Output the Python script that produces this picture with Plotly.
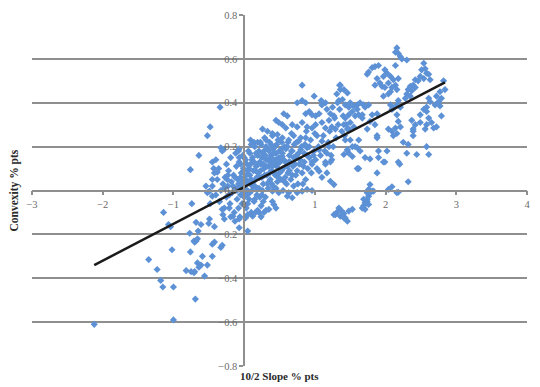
import plotly.graph_objects as go

# ---------------- data ----------------
# (10/2 slope % pts, convexity % pts) pairs, grouped by region of the cloud
left_sparse = [
    (-0.64, 0.16), (-0.76, 0.095), (-0.74, -0.06), (-1.14, -0.10), (-1.07, -0.155),
    (-1.04, -0.165), (-0.77, -0.195), (-0.70, -0.235), (-0.68, -0.23), (-1.02, -0.27),
    (-0.76, -0.28), (-1.35, -0.315), (-1.23, -0.36), (-0.82, -0.365), (-0.75, -0.37),
    (-0.70, -0.37), (-1.18, -0.41), (-1.15, -0.44), (-1.00, -0.44), (-0.69, -0.495),
    (-1.00, -0.59), (-2.12, -0.61), (-0.68, -0.145), (-0.61, -0.155), (-0.50, -0.15),
    (-0.65, -0.185), (-0.42, -0.165), (-0.71, -0.23), (-0.42, -0.235), (-0.31, -0.25),
    (-0.59, -0.30), (-0.45, -0.30), (-0.66, -0.33), (-0.61, -0.34), (-0.52, -0.34),
    (-0.64, -0.35), (-0.71, -0.375), (-0.56, -0.39), (-0.49, -0.13), (-0.28, -0.13),
    (-0.66, -0.22), (-0.45, -0.245), (-0.33, -0.26), (-0.07, -0.17), (-0.19, -0.12),
    (0.02, -0.125), (0.16, -0.10), (0.24, -0.12), (0.31, -0.09), (-0.54, 0.02),
    (-0.49, -0.003), (-0.45, 0.05), (-0.52, -0.01), (-0.45, -0.026), (-0.35, -0.05),
    (-0.31, -0.086), (-0.21, -0.08), (-0.16, -0.117), (-0.07, -0.13), (0.05, -0.11),
    (0.12, -0.117), (0.21, -0.10), (0.05, -0.185), (0.28, -0.10), (0.35, -0.086),
]
upper_left = [
    (-0.34, 0.38), (-0.48, 0.29), (-0.52, 0.25), (-0.33, 0.195), (-0.31, 0.18),
    (-0.45, 0.13), (-0.43, 0.10), (-0.38, 0.083), (-0.23, 0.07), (-0.07, 0.19),
    (0.26, 0.28), (0.09, 0.23), (0.14, 0.22), (0.19, 0.22), (0.24, 0.21),
    (0.31, 0.23), (-0.08, 0.18), (-0.07, 0.15), (-0.29, 0.186), (-0.40, 0.14),
]
core_left = [
    (-0.45, 0.02), (-0.40, -0.02), (-0.38, 0.05), (-0.35, -0.05), (-0.33, 0.00),
    (-0.30, 0.03), (-0.28, -0.08), (-0.27, 0.06), (-0.25, -0.03), (-0.23, 0.02),
    (-0.22, 0.09), (-0.20, -0.06), (-0.18, 0.04), (-0.17, -0.01), (-0.15, 0.07),
    (-0.14, -0.10), (-0.12, 0.01), (-0.11, 0.11), (-0.10, -0.04), (-0.09, 0.05),
    (-0.08, -0.08), (-0.07, 0.13), (-0.06, 0.02), (-0.05, -0.02), (-0.04, 0.08),
    (-0.03, -0.06), (-0.02, 0.04), (-0.01, 0.10), (0.00, -0.03), (0.00, 0.01),
    (-0.48, -0.06), (-0.42, 0.08), (-0.36, 0.10), (-0.30, -0.11), (-0.25, 0.12),
    (-0.19, 0.15), (-0.13, -0.14), (-0.06, -0.12), (-0.02, 0.16), (-0.12, 0.17),
]
core_mid = [
    (0.02, 0.05), (0.03, -0.08), (0.04, 0.12), (0.05, 0.00), (0.06, 0.18),
    (0.07, -0.04), (0.08, 0.07), (0.09, 0.03), (0.10, -0.10), (0.11, 0.14),
    (0.12, 0.02), (0.13, 0.09), (0.14, -0.05), (0.15, 0.20), (0.16, 0.05),
    (0.17, 0.11), (0.18, -0.02), (0.19, 0.16), (0.20, 0.08), (0.21, 0.01),
    (0.22, 0.13), (0.23, 0.22), (0.24, -0.07), (0.25, 0.06), (0.26, 0.17),
    (0.27, 0.03), (0.28, 0.10), (0.29, 0.24), (0.30, -0.03), (0.31, 0.14),
    (0.32, 0.07), (0.33, 0.19), (0.34, 0.01), (0.35, 0.11), (0.36, 0.22),
    (0.37, 0.05), (0.38, 0.16), (0.39, 0.09), (0.40, 0.26), (0.41, 0.02),
    (0.42, 0.13), (0.43, 0.20), (0.44, 0.07), (0.45, 0.17), (0.46, 0.11),
    (0.47, 0.04), (0.48, 0.23), (0.49, 0.15), (0.50, 0.08), (0.05, 0.09),
    (0.12, 0.15), (0.18, 0.06), (0.24, 0.12), (0.28, 0.18), (0.35, 0.04),
    (0.41, 0.19), (0.08, -0.01), (0.15, 0.02), (0.22, -0.03), (0.33, 0.27),
    (0.10, 0.21), (0.02, 0.14), (0.19, -0.09), (0.27, -0.05),
]
core_fill = [
    (-0.28, 0.01), (-0.24, 0.05), (-0.21, -0.02), (-0.16, 0.02), (-0.13, 0.06),
    (-0.10, 0.00), (-0.08, 0.03), (-0.05, 0.06), (-0.03, 0.01), (-0.01, -0.01),
    (0.01, 0.03), (0.03, 0.07), (0.04, -0.02), (0.06, 0.04), (0.07, 0.10),
    (0.09, 0.12), (0.10, 0.05), (0.11, 0.00), (0.13, 0.04), (0.14, 0.13),
    (0.16, 0.09), (0.17, 0.17), (0.18, 0.01), (0.20, 0.12), (0.21, 0.18),
    (0.22, 0.06), (0.23, 0.09), (0.25, 0.15), (0.26, 0.00), (0.27, 0.12),
    (0.29, 0.07), (0.30, 0.16), (0.31, 0.20), (0.32, 0.11), (0.34, 0.14),
    (0.35, 0.18), (0.36, 0.08), (0.37, 0.13), (0.38, 0.21), (0.39, 0.03),
    (0.40, 0.11), (0.42, 0.17), (0.43, 0.08), (0.44, 0.14), (0.46, 0.21),
    (0.47, 0.12), (0.48, 0.06), (0.50, 0.18), (0.51, 0.13), (0.53, 0.09),
    (0.54, 0.17), (0.56, 0.14), (0.58, 0.06), (0.59, 0.19), (0.61, 0.11),
    (0.62, 0.22), (0.64, 0.09), (0.65, 0.13), (0.67, 0.18), (0.68, 0.07),
    (0.70, 0.15), (0.72, 0.12), (0.74, 0.22), (0.75, 0.09), (0.77, 0.17),
    (0.79, 0.14), (0.81, 0.20), (0.84, 0.11), (0.86, 0.21), (0.89, 0.16),
    (0.15, -0.04), (0.05, -0.06), (0.25, -0.02), (0.33, 0.03), (0.45, 0.01),
    (0.57, 0.04), (0.70, 0.02), (-0.05, 0.12), (0.00, 0.15), (0.08, 0.17),
]
core_right = [
    (0.52, 0.05), (0.55, 0.10), (0.57, 0.20), (0.60, 0.03), (0.62, 0.08),
    (0.64, 0.16), (0.66, 0.05), (0.69, 0.11), (0.71, 0.21), (0.73, 0.07),
    (0.76, 0.03), (0.78, 0.12), (0.80, 0.24), (0.82, 0.08), (0.85, 0.17),
    (0.87, 0.05), (0.90, 0.10), (0.92, 0.20), (0.95, 0.08), (0.98, 0.16),
    (1.00, 0.26), (0.53, 0.22), (0.58, 0.13), (0.67, 0.26), (0.74, 0.16),
    (0.83, 0.03), (0.88, 0.27), (0.96, 0.12), (0.55, 0.00), (0.63, -0.01),
    (1.03, 0.10), (1.05, 0.20), (1.08, 0.16), (1.10, 0.06), (1.12, 0.25),
    (1.14, 0.18), (1.17, 0.08), (1.19, 0.22), (1.21, 0.27), (1.23, 0.16),
    (1.26, 0.20), (1.28, 0.33), (1.30, 0.24), (1.33, 0.30), (1.35, 0.37),
    (1.38, 0.27), (1.32, 0.40), (1.25, 0.38), (1.15, 0.40), (1.40, 0.34),
    (1.42, 0.25), (1.44, 0.30),
]
upper_mid = [
    (0.82, 0.48), (1.35, 0.48), (0.99, 0.43), (0.75, 0.40), (0.82, 0.41),
    (0.87, 0.40), (1.09, 0.41), (1.10, 0.39), (1.31, 0.44), (1.34, 0.41),
    (1.36, 0.46), (0.56, 0.35), (0.61, 0.34), (0.87, 0.35), (0.92, 0.36),
    (0.96, 0.345), (1.01, 0.34), (1.06, 0.35), (1.17, 0.37), (1.22, 0.35),
    (1.27, 0.34), (1.20, 0.32), (0.45, 0.32), (0.49, 0.31), (0.54, 0.30),
    (0.59, 0.285), (0.68, 0.30), (0.75, 0.29), (0.82, 0.31), (0.89, 0.29),
    (0.96, 0.285), (1.01, 0.30), (1.10, 0.31), (1.15, 0.285), (1.24, 0.29),
    (1.29, 0.28), (0.40, 0.25), (0.47, 0.255), (0.54, 0.24), (0.63, 0.23),
    (0.70, 0.25), (0.77, 0.225), (0.87, 0.24), (0.94, 0.23), (1.03, 0.25),
    (1.10, 0.225), (0.42, 0.195), (0.52, 0.186), (0.61, 0.20), (0.68, 0.18),
    (0.80, 0.186), (0.89, 0.195), (0.99, 0.18), (1.06, 0.186), (1.17, 0.17),
    (1.20, 0.20), (0.38, 0.15), (0.47, 0.14), (0.54, 0.155), (0.63, 0.13),
    (0.73, 0.15), (0.85, 0.13), (0.92, 0.15), (1.01, 0.14), (1.15, 0.13),
    (1.24, 0.14),
]
lower_mid = [
    (0.40, -0.003), (0.49, -0.01), (0.61, -0.026), (0.68, -0.033), (0.75, -0.01),
    (0.82, -0.003), (0.89, 0.005), (0.96, 0.00), (0.40, -0.05), (0.42, -0.064),
    (0.45, -0.08), (1.06, 0.088), (1.22, 0.042), (1.27, 0.027), (0.96, 0.13),
    (1.15, 0.12), (1.22, 0.13), (1.34, -0.08), (1.38, -0.094), (1.29, -0.11),
    (1.36, -0.117), (1.41, -0.125), (1.27, -0.11), (1.31, -0.10), (1.41, -0.105),
    (1.43, -0.125), (1.46, -0.14), (1.48, -0.094), (1.53, -0.086), (1.69, -0.07),
    (1.71, -0.056), (1.74, -0.04), (1.76, -0.026), (1.78, -0.01), (1.67, -0.08),
    (1.71, -0.086), (2.16, -0.01), (2.04, 0.005), (1.78, 0.027), (1.76, 0.005),
    (1.74, -0.01), (1.81, -0.003), (1.83, -0.003), (1.69, -0.04), (1.74, -0.05),
    (1.76, -0.064), (2.09, 0.017), (2.18, -0.008), (2.32, 0.04),
]
right_side = [
    (1.43, 0.23), (1.46, 0.186), (1.41, 0.164), (1.48, 0.17), (1.53, 0.20),
    (1.62, 0.23), (1.64, 0.18), (1.60, 0.195), (1.88, 0.24), (1.90, 0.18),
    (2.02, 0.18), (1.71, 0.15), (1.78, 0.144), (1.90, 0.15), (1.97, 0.13),
    (1.62, 0.10), (1.88, 0.08), (2.18, 0.13), (2.20, 0.12), (2.25, 0.22),
    (2.32, 0.21), (2.30, 0.17), (2.44, 0.164), (2.58, 0.20), (2.61, 0.164),
    (2.39, 0.27), (2.39, 0.25), (2.56, 0.28), (2.09, 0.27), (2.11, 0.25),
    (1.50, 0.23), (1.46, 0.18), (1.53, 0.155), (1.57, 0.20), (1.48, 0.28),
    (1.60, 0.10), (1.99, 0.13), (1.88, 0.25),
]
upper_right = [
    (2.16, 0.65), (2.14, 0.63), (2.18, 0.625), (2.23, 0.60), (2.30, 0.595),
    (2.21, 0.61), (1.85, 0.565), (1.90, 0.57), (1.81, 0.56), (1.76, 0.54),
    (1.74, 0.53), (1.99, 0.55), (2.02, 0.535), (1.97, 0.52), (2.14, 0.57),
    (1.88, 0.51), (1.92, 0.49), (1.85, 0.48), (2.07, 0.52), (2.11, 0.505),
    (2.18, 0.51), (2.04, 0.49), (2.14, 0.48), (2.09, 0.47), (2.16, 0.46),
    (2.07, 0.45), (1.99, 0.47), (1.95, 0.475), (1.97, 0.43), (2.04, 0.44),
    (2.54, 0.58), (2.56, 0.555), (2.51, 0.55), (2.58, 0.535), (2.49, 0.52),
    (2.54, 0.51), (2.46, 0.50), (2.42, 0.505), (2.39, 0.48), (2.35, 0.475),
    (2.32, 0.46), (2.42, 0.47), (2.37, 0.455), (2.30, 0.44), (2.28, 0.42),
    (2.35, 0.43), (2.61, 0.53), (2.63, 0.505), (2.82, 0.50), (2.84, 0.46),
    (2.77, 0.45), (2.72, 0.43), (2.75, 0.405), (2.79, 0.42), (2.70, 0.39),
    (2.77, 0.385), (2.61, 0.42), (2.63, 0.405), (2.58, 0.38), (2.54, 0.37),
    (2.49, 0.345), (2.58, 0.36), (2.61, 0.33), (2.79, 0.34), (2.18, 0.41),
    (2.16, 0.39), (2.11, 0.375), (2.21, 0.38), (2.07, 0.39), (2.09, 0.37),
    (2.16, 0.345), (2.18, 0.315), (2.21, 0.29), (2.14, 0.285), (2.04, 0.28),
    (2.16, 0.26), (2.37, 0.32), (2.42, 0.30), (2.39, 0.28), (2.49, 0.31),
    (2.58, 0.30), (2.65, 0.31), (2.68, 0.285), (2.72, 0.29),
]
upper_centre = [
    (1.36, 0.48), (1.41, 0.46), (1.46, 0.445), (1.39, 0.415), (1.43, 0.39),
    (1.50, 0.40), (1.55, 0.385), (1.60, 0.39), (1.64, 0.40), (1.69, 0.39),
    (1.53, 0.36), (1.48, 0.345), (1.57, 0.34), (1.62, 0.345), (1.67, 0.33),
    (1.43, 0.33), (1.50, 0.31), (1.55, 0.29), (1.41, 0.30), (1.46, 0.28),
    (1.81, 0.345), (1.88, 0.35), (1.78, 0.315), (1.85, 0.30), (1.74, 0.28),
    (1.60, 0.37), (1.48, 0.38), (1.71, 0.38), (1.76, 0.39), (1.67, 0.345),
]

all_pts = (left_sparse + upper_left + core_left + core_mid + core_fill + core_right
           + upper_mid + lower_mid + right_side + upper_right + upper_centre)
slope_pct = [p[0] for p in all_pts]
convexity_pct = [p[1] for p in all_pts]

# linear trend line
trend_slope = 0.168
trend_intercept = 0.016

x_ticks = [-3, -2, -1, 0, 1, 2, 3, 4]
y_ticks = [-0.8, -0.6, -0.4, -0.2, 0, 0.2, 0.4, 0.6, 0.8]
x_title = "10/2 Slope % pts"
y_title = "Convexity % pts"

# ---------------- figure ----------------
trend_x = [min(slope_pct), max(slope_pct)]
trend_y = [trend_intercept + trend_slope * v for v in trend_x]

fig = go.Figure()
fig.add_trace(go.Scatter(
    x=slope_pct, y=convexity_pct, mode="markers",
    marker=dict(symbol="diamond", size=5.5, color="#5d91d6", line=dict(width=0)),
    hoverinfo="x+y",
))
fig.add_trace(go.Scatter(
    x=trend_x, y=trend_y, mode="lines",
    line=dict(color="#1a1a1a", width=2.5), hoverinfo="skip",
))

axis_grey = "#8f8f8f"
serif = "Liberation Serif, Times New Roman, serif"
tick_font = dict(family=serif, size=10.5, color="#6b6b6b")
x_range = [-3, 4]
y_range = [-0.8, 0.8]

fig.update_layout(
    width=540, height=387,
    margin=dict(l=32, r=10, t=15, b=21),
    paper_bgcolor="white", plot_bgcolor="white",
    showlegend=False,
    xaxis=dict(
        range=x_range, tickvals=x_ticks, anchor="free",
        position=(0 - y_range[0]) / (y_range[1] - y_range[0]),
        showgrid=False, zeroline=False,
        showline=True, linecolor=axis_grey, linewidth=1.5,
        ticks="outside", ticklen=4, tickcolor=axis_grey, tickwidth=1.5,
        tickfont=tick_font,
    ),
    yaxis=dict(
        range=y_range, tickvals=y_ticks, anchor="free",
        position=(0 - x_range[0]) / (x_range[1] - x_range[0]),
        showgrid=True, gridcolor=axis_grey, gridwidth=2,
        zeroline=False,
        showline=True, linecolor=axis_grey, linewidth=1.5,
        ticks="outside", ticklen=4, tickcolor=axis_grey, tickwidth=1.5,
        tickfont=tick_font, tickformat=".1f",
    ),
    annotations=[
        dict(text=x_title, xref="paper", yref="paper", x=0.5, y=0,
             xanchor="center", yanchor="top", yshift=-2, showarrow=False,
             font=dict(family=serif, size=11, color="#2a2a2a", weight="bold")),
        dict(text=y_title, xref="paper", yref="paper", x=0, y=0.5,
             xanchor="center", yanchor="middle", xshift=-18, textangle=-90,
             showarrow=False,
             font=dict(family=serif, size=11.5, color="#2a2a2a", weight="bold")),
    ],
)

fig.write_html("out.html",
               config={"displayModeBar": False},
               post_script="document.body.style.margin='0';document.body.style.overflow='hidden';")
